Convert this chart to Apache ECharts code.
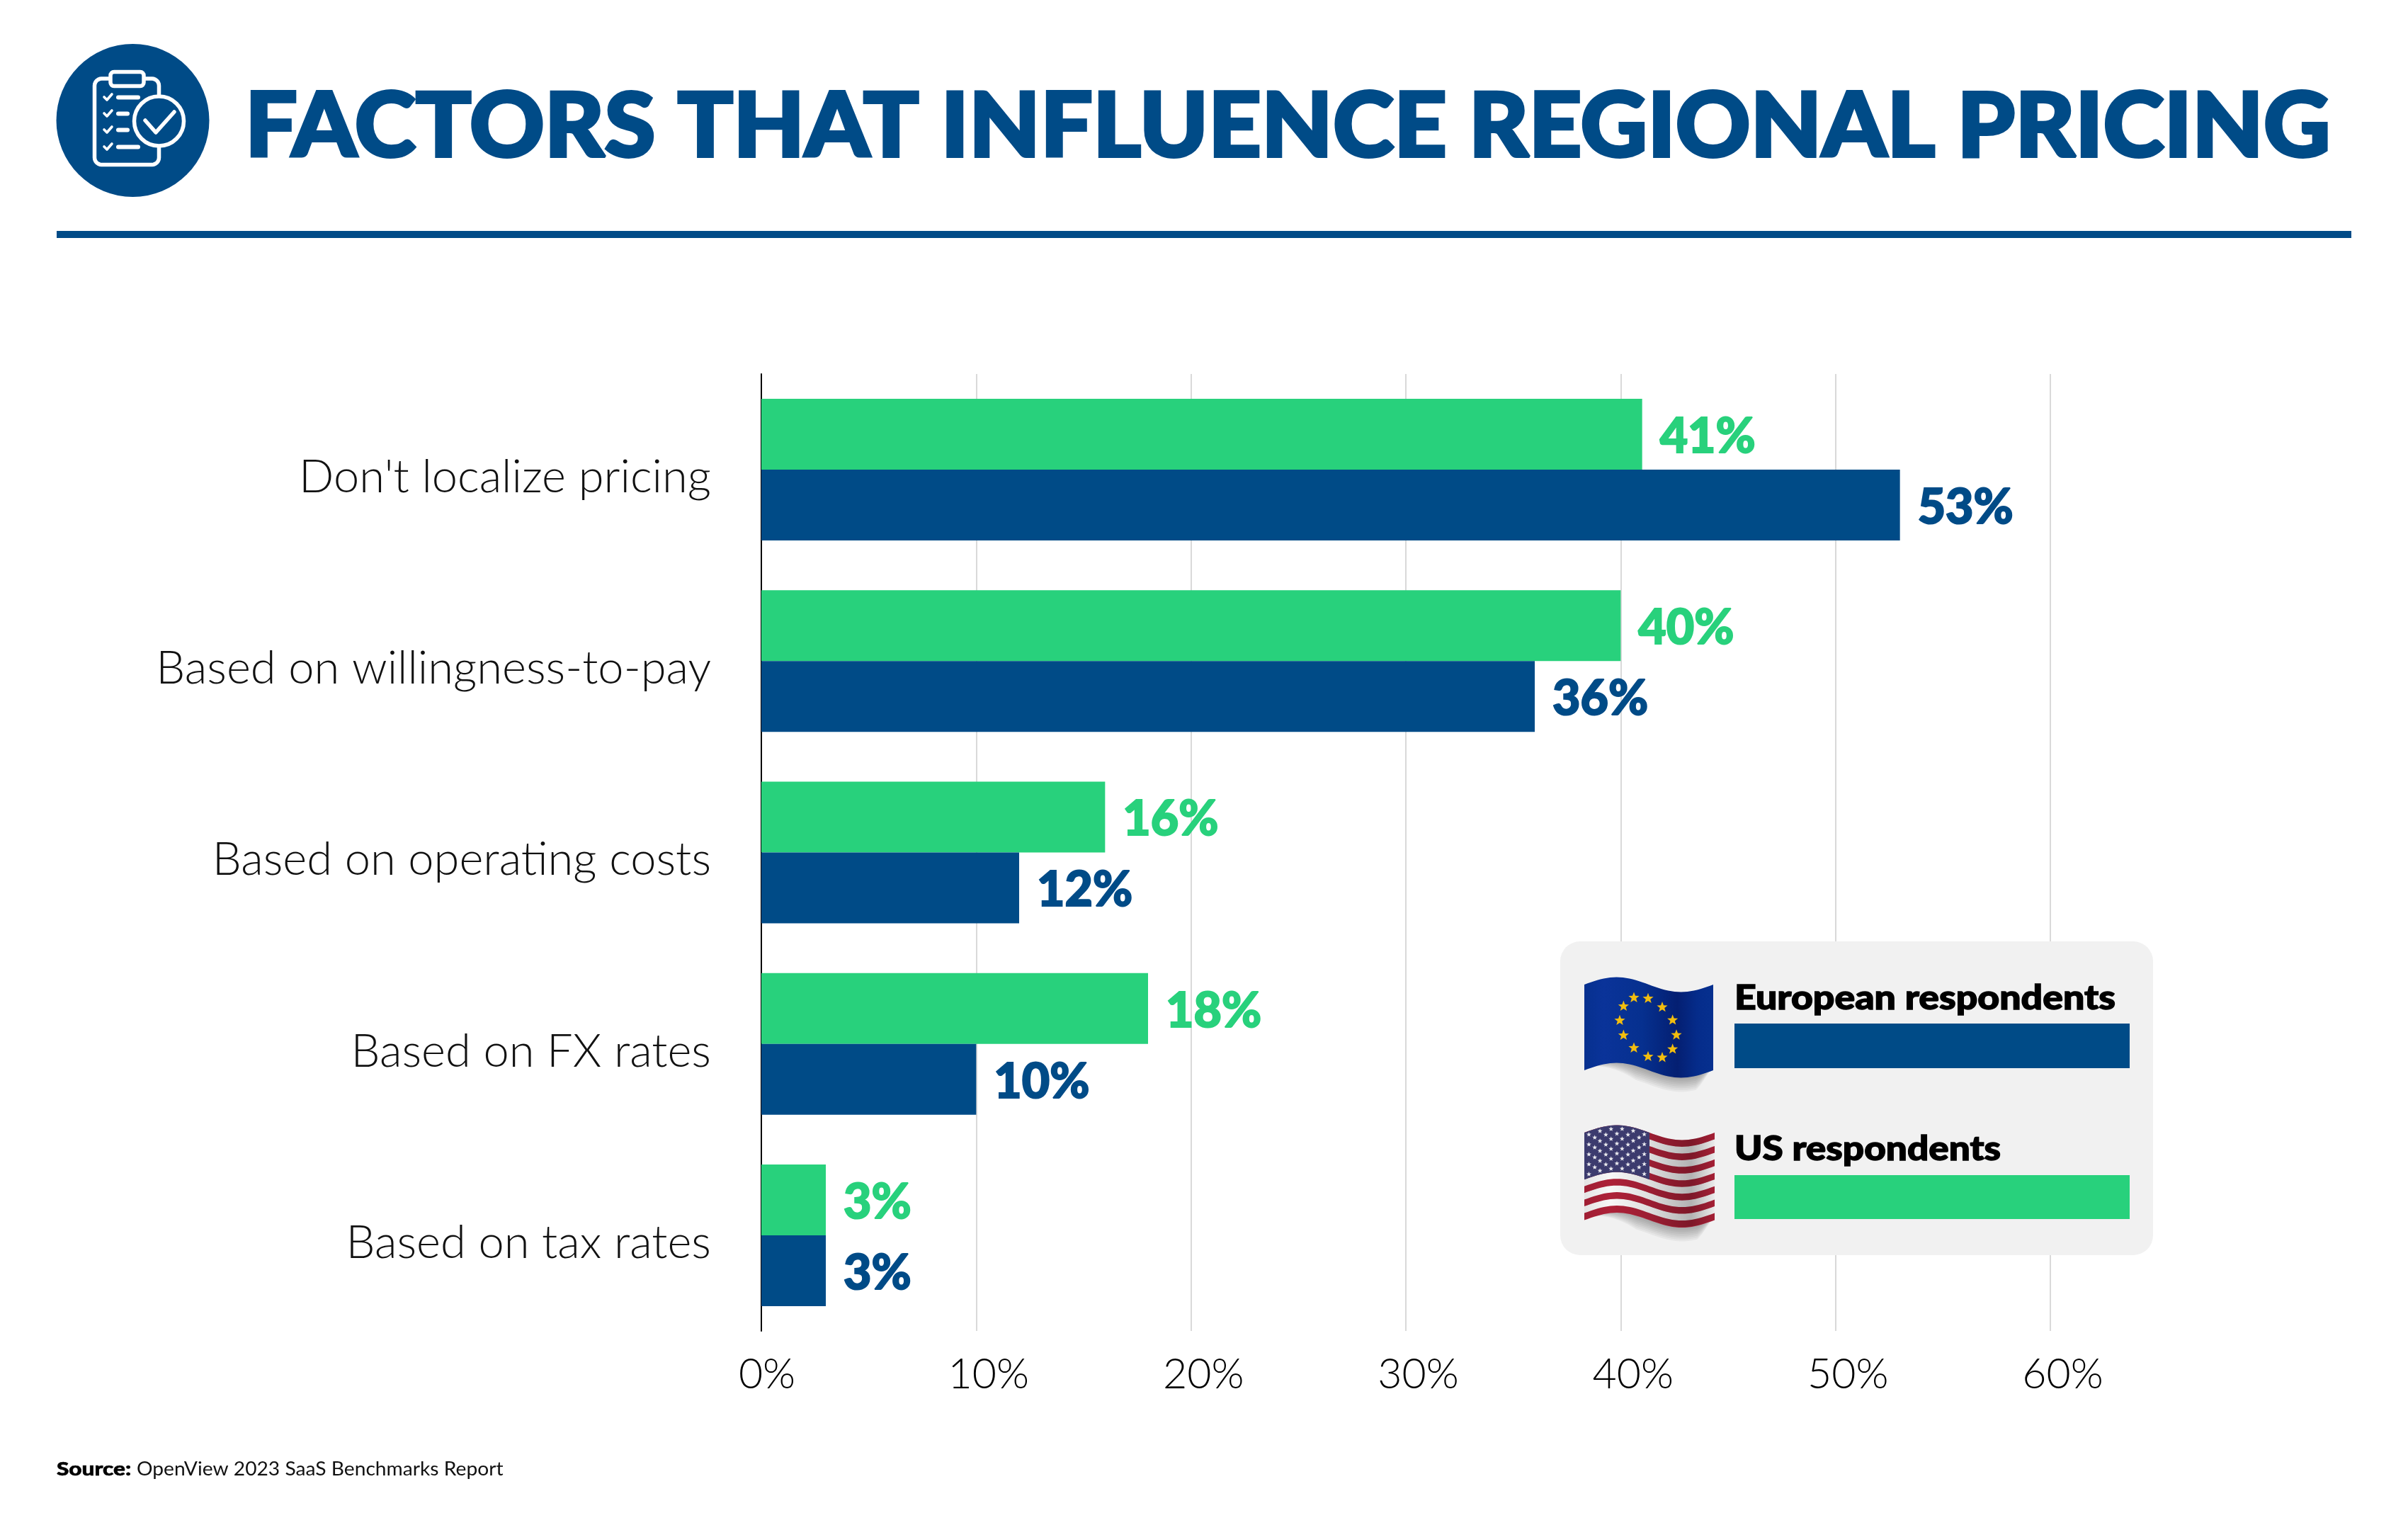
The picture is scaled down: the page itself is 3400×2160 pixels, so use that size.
<!DOCTYPE html>
<html><head><meta charset="utf-8">
<style>html,body{margin:0;padding:0;background:#fff}#c{width:3400px;height:2160px}</style>
<script src="https://cdn.jsdelivr.net/npm/echarts@6/dist/echarts.min.js"></script>
</head><body><div id="c"></div>
<script>
const titleText = "FACTORS THAT INFLUENCE REGIONAL PRICING";
const categories = ["Don't localize pricing","Based on willingness-to-pay","Based on operating costs","Based on FX rates","Based on tax rates"];
const usName = "US respondents";
const euName = "European respondents";
const usValues = [41,40,16,18,3];
const euValues = [53,36,12,10,3];
const axisTicks = [0,10,20,30,40,50,60];
const sourceBold = "Source:";
const sourceText = "OpenView 2023 SaaS Benchmarks Report";
const NAVY="#004b87", GREEN="#28d17c";
const chart = echarts.init(document.getElementById('c'),null,{width:3400,height:2160,renderer:'canvas'});

function wave(t){return -10.5*Math.sin(2*Math.PI*t);}
function band(x0,x1,yTop,yBot,style,z){
  const pts=[];const n=40;
  for(let i=0;i<=n;i++){const t=i/n;pts.push([x0+(x1-x0)*t,yTop+wave(t)]);}
  for(let i=n;i>=0;i--){const t=i/n;pts.push([x0+(x1-x0)*t,yBot+wave(t)]);}
  return {type:'polygon',shape:{points:pts},style:style,z:z||10,silent:true};
}
function star(cx,cy,r,fill){
  const pts=[];
  for(let i=0;i<10;i++){const a=-Math.PI/2+i*Math.PI/5;const q=i%2?r*0.42:r;pts.push([cx+q*Math.cos(a),cy+q*Math.sin(a)]);}
  return {type:'polygon',shape:{points:pts},style:{fill:fill},z:13,silent:true};
}
function shadow(x0,x1,yBot){
  const out=[];
  for(let i=10;i>=1;i--){
    const pts=[];const n=30;
    for(let k=0;k<=n;k++){const t=k/n;const f=Math.min(1,t*2.5,(1-t)*8);pts.push([x0+(x1-x0)*t,yBot+wave(t)-6+i*2.6*f]);}
    for(let k=n;k>=0;k--){const t=k/n;pts.push([x0+(x1-x0)*t,yBot+wave(t)-6]);}
    out.push({type:'polygon',shape:{points:pts},style:{fill:'rgba(0,0,0,0.042)'},z:9,silent:true});
  }
  return out;
}
function hGrad(stops){return new echarts.graphic.LinearGradient(0,0,1,0,stops.map((s)=>({offset:s[0],color:s[1]})));}
function corner(cx,cy,r,a0,a1){const p=[];for(let i=0;i<=6;i++){const a=(a0+(a1-a0)*i/6)*Math.PI/180;p.push([cx+r*Math.cos(a),cy+r*Math.sin(a)]);}return p;}

const g=[];
// header
g.push({type:'circle',shape:{cx:187.5,cy:170,r:108},style:{fill:NAVY},z:10});
g.push({type:'rect',shape:{x:80,y:326,width:3240,height:10},style:{fill:NAVY},z:10});
const ic={stroke:'#fff',fill:'none',lineWidth:5.5,lineCap:'round',lineJoin:'round'};
const clipPts=[[224.5,133]].concat(corner(214.5,121,10,0,-90),[[205,111]]);
g.push({type:'polyline',shape:{points:clipPts},style:ic,z:11});
const clipPts2=[[153,111]].concat(corner(143.5,121,10,-90,-180),corner(143.5,222.5,10,180,90),corner(214.5,222.5,10,90,0),[[224.5,209]]);
g.push({type:'polyline',shape:{points:clipPts2},style:ic,z:11});
g.push({type:'rect',shape:{x:156,y:101.5,width:47,height:20,r:5},style:ic,z:11});
g.push({type:'circle',shape:{cx:224.5,cy:171,r:35},style:ic,z:11});
g.push({type:'polyline',shape:{points:[[205,170],[220,187],[246,158]]},style:ic,z:11});
[[133,167,195],[156,167,180],[179,167,180],[203,167,195]].forEach((r)=>{
  g.push({type:'polyline',shape:{points:[[147,r[0]+4],[151,r[0]+8],[158,r[0]]]},style:{stroke:'#fff',fill:'none',lineWidth:3.6,lineCap:'round',lineJoin:'round'},z:11});
  g.push({type:'line',shape:{x1:r[1],y1:r[0]+4.5,x2:r[2],y2:r[0]+4.5},style:{stroke:'#fff',lineWidth:6,lineCap:'round'},z:11});
});
g.push({type:'text',x:346,y:243,scaleX:1.036,style:{text:titleText,fill:NAVY,stroke:NAVY,lineWidth:4,font:'900 126px Lato',verticalAlign:'bottom'},z:10});
// legend panel
g.push({type:'rect',shape:{x:2203,y:1329,width:837,height:443,r:28},style:{fill:'#f1f1f1'},z:8,silent:true});
g.push({type:'rect',shape:{x:2449,y:1445,width:558,height:63},style:{fill:NAVY},z:10,silent:true});
g.push({type:'rect',shape:{x:2449,y:1659,width:558,height:62},style:{fill:GREEN},z:10,silent:true});
g.push({type:'text',x:2449,y:1433,scaleX:1.14,style:{text:euName,fill:'#000',stroke:'#000',lineWidth:1.4,font:'900 47px Lato',verticalAlign:'bottom'},z:10});
g.push({type:'text',x:2449,y:1646,scaleX:1.13,style:{text:usName,fill:'#000',stroke:'#000',lineWidth:1.4,font:'900 47px Lato',verticalAlign:'bottom'},z:10});
// EU flag
shadow(2237,2419,1511).forEach((e)=>g.push(e));
g.push(band(2237,2419,1390,1511,{fill:hGrad([[0,'#06308f'],[0.15,'#0a3399'],[0.45,'#06308f'],[0.72,'#041f72'],[0.88,'#052c8b'],[1,'#06308f']])},10));
for(let i=0;i<12;i++){
  const a=i*Math.PI/6;const x=2327+40*Math.sin(a);const t=(x-2237)/182;const y=1451-41*Math.cos(a)+wave(t);
  g.push(star(x,y,8,'#f2bd0f'));
}
// US flag
shadow(2237,2421,1722).forEach((e)=>g.push(e));
{const top=1599,h=123/13;
 for(let i=0;i<13;i++){
  g.push(band(2237,2421,top+i*h,top+(i+1)*h+0.6,{fill:i%2?'#f7f7f7':'#ad2138'},10));
 }
 g.push(band(2237,2421,top,top+123,{fill:hGrad([[0,'rgba(0,0,0,0.08)'],[0.2,'rgba(0,0,0,0)'],[0.5,'rgba(0,0,0,0.1)'],[0.82,'rgba(0,0,0,0.28)'],[1,'rgba(0,0,0,0.05)']])},11));
 const pts=[];const n=30;
 for(let k=0;k<=n;k++){const t=0.5*k/n;pts.push([2237+184*t,top+wave(t)]);}
 for(let k=n;k>=0;k--){const t=0.5*k/n;pts.push([2237+184*t,top+7*h+wave(t)]);}
 g.push({type:'polygon',shape:{points:pts},style:{fill:'#3c3b6e'},z:12,silent:true});
 for(let r=0;r<9;r++){
  const cnt=r%2?5:6;
  for(let c=0;c<cnt;c++){
    const t=(r%2?0.08:0.035)+c*0.085;
    g.push(star(2237+184*t,top+5+r*7.0+wave(t),3.6,'#e8e8ee'));
  }
 }
}
// source
g.push({type:'text',x:80,y:2088,scaleX:1.17,style:{text:sourceBold,fill:'#000',stroke:'#000',lineWidth:0.6,font:'900 27px Lato',verticalAlign:'bottom'},z:10});
g.push({type:'text',x:193,y:2088,scaleX:1.044,style:{text:sourceText,fill:'#111',font:'400 27px Lato',verticalAlign:'bottom'},z:10});

const series=[[usName,usValues,GREEN],[euName,euValues,NAVY]].map((s)=>({
  name:s[0],type:'bar',data:s[1],barWidth:100,barGap:'0%',
  itemStyle:{color:s[2]},
  label:{show:true,position:'right',distance:25,offset:[0,4],formatter:'{c}%',color:s[2],fontFamily:'Lato',fontWeight:900,fontSize:68,textBorderColor:s[2],textBorderWidth:2},
  z:3
}));
chart.setOption({
  animation:false,backgroundColor:'#fff',
  grid:{left:1075,right:505,top:528,bottom:281,containLabel:false},
  xAxis:{type:'value',min:axisTicks[0],max:axisTicks[axisTicks.length-1],interval:10,
    axisLine:{show:false},axisTick:{show:false},
    splitLine:{show:true,lineStyle:{color:'#d9d9d9',width:2}},
    axisLabel:{margin:32,color:'#000',fontFamily:'Lato',fontWeight:300,fontSize:59,
      formatter:(v)=>v===0?'{z|'+v+'%}':'{n|'+v+'%}',
      rich:{z:{fontFamily:'Lato',fontWeight:300,fontSize:59,color:'#000',padding:[0,0,0,16]},n:{fontFamily:'Lato',fontWeight:300,fontSize:59,color:'#000',padding:[0,0,0,35]}}}},
  yAxis:{type:'category',data:categories,inverse:true,
    axisLine:{show:true,lineStyle:{color:'#000',width:2}},axisTick:{show:false},
    axisLabel:{margin:71,color:'#111',fontFamily:'Lato',fontWeight:300,fontSize:65,verticalAlign:'top',lineHeight:22}},
  series:series,
  graphic:{elements:g}
});
</script></body></html>
